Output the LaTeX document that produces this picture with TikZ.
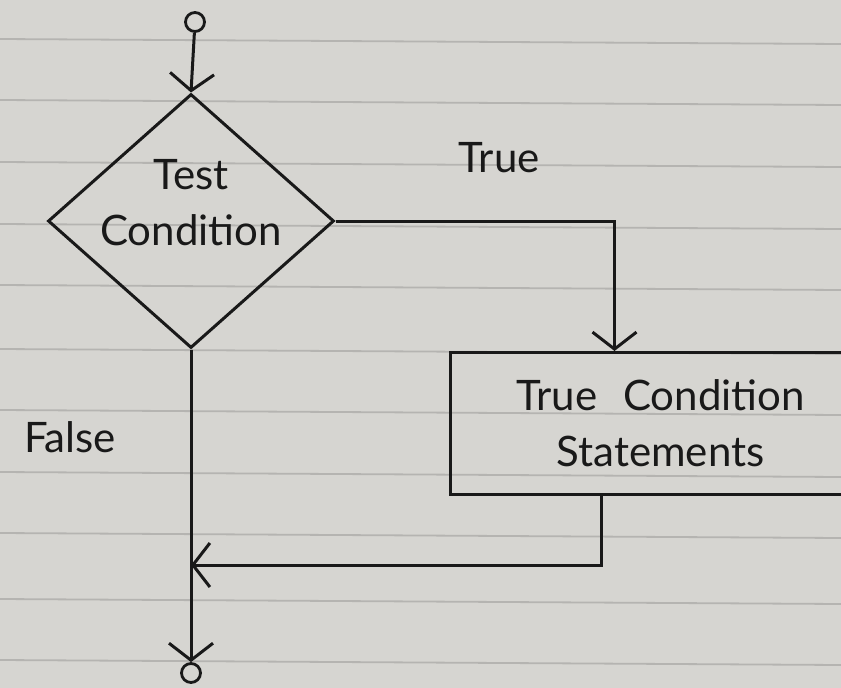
\documentclass[tikz,border=0pt]{standalone}
\usepackage{fontspec}
\setmainfont{Lato}
\usepackage{xcolor}
\usepackage{tikz}
\usetikzlibrary{arrows.meta}
\usetikzlibrary{shapes.geometric}
\usetikzlibrary{positioning}

\definecolor{paper}{HTML}{D6D5D1}
\definecolor{ruling}{HTML}{B5B4B1}
\definecolor{ink}{HTML}{191919}

\tikzset{
  hand/.style={font=\fontsize{42}{56}\selectfont, text=ink},
  % negative inner sep so the minimum sizes fix the diamond, not the text
  decision/.style={diamond, draw=ink, line width=3pt, hand, align=center,
    minimum width=286pt, minimum height=254pt, inner sep=-40pt},
  process/.style={rectangle, draw=ink, line width=3pt, hand, align=center,
    minimum width=420pt, minimum height=142pt},
  terminal/.style={circle, draw=ink, line width=2.8pt, minimum size=19pt, inner sep=0pt},
  flow/.style={draw=ink, line width=3pt,
    -{Straight Barb[length=17pt,width=44pt,line width=3pt]}},
}

\begin{document}
\begin{tikzpicture}[x=1pt, y=-1pt]
  \useasboundingbox (0,0) rectangle (841,688);
  \clip (0,0) rectangle (841,688);
  \fill[paper] (0,0) rectangle (841,688);

  % ruled lines of the notebook page
  \foreach \y in {39,100,162,224,285,349,410,472,533,599,660}
    \draw[ruling, line width=1.8pt] (0,\y) -- (841,\y+5);

  \node[terminal] (start) at (195,22) {};
  % empty last line lifts the two words above the middle
  \node[decision] (test) at (191,221) {Test\\Condition\\[-18pt]\mbox{}};
  \node[process, anchor=north west] (stmts) at (449,351) {True\hspace{26pt}Condition\\Statements};
  \node[terminal] (stop) at (191,673) {};
  \coordinate (merge) at (191,565);

  \node[hand] (truelbl) at (499,158) {True};
  \node[hand] (falselbl) at (70,437) {False};

  \draw[flow] (start) -- (test.north);
  \draw[flow] (test.east) -| ([xshift=-46pt]stmts.north);
  \draw[flow] ([xshift=-59pt]stmts.south) |- (merge);
  \draw[flow] (test.south) -- (stop.north);
\end{tikzpicture}
\end{document}
